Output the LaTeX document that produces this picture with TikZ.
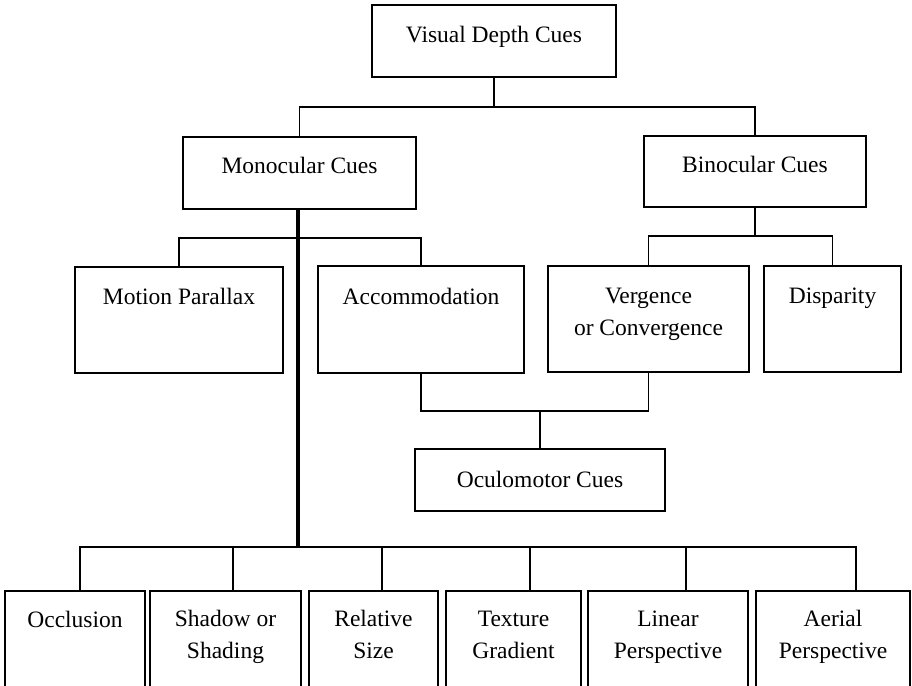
\documentclass[tikz,border=0pt]{standalone}
\usepackage{fontspec}
\setmainfont{Liberation Serif}
\begin{document}
\begin{tikzpicture}[x=1pt,y=-1pt,
  box/.style={draw, rectangle, line width=1.9pt, inner sep=0pt, outer sep=0pt},
  lbl/.style={font=\fontsize{23.5}{31.5}\selectfont, inner sep=0pt, anchor=base, align=center},
  conn/.style={line width=1.9pt},
  trunk/.style={line width=3.3pt}]
\useasboundingbox (0,0) rectangle (912,685);
\clip (0,0) rectangle (912,685);
% boxes
\node[box, minimum width=244pt, minimum height=72pt] (vdc) at (494,41) {};
\node[box, minimum width=233pt, minimum height=72pt] (mono) at (299.5,173) {};
\node[box, minimum width=222pt, minimum height=71pt] (bino) at (755,171.5) {};
\node[box, minimum width=208pt, minimum height=106pt] (motion) at (179,320) {};
\node[box, minimum width=206pt, minimum height=107pt] (accom) at (421,319.5) {};
\node[box, minimum width=201pt, minimum height=106pt] (verg) at (648.5,319) {};
\node[box, minimum width=137pt, minimum height=106pt] (disp) at (832.5,319) {};
\node[box, minimum width=250pt, minimum height=62pt] (ocul) at (540,480) {};
\node[box, minimum width=140pt, minimum height=129pt] (occl) at (75,655.5) {};
\node[box, minimum width=151pt, minimum height=129pt] (shad) at (225.5,655.5) {};
\node[box, minimum width=129pt, minimum height=129pt] (rel) at (373.5,655.5) {};
\node[box, minimum width=135pt, minimum height=129pt] (tex) at (513.5,655.5) {};
\node[box, minimum width=160pt, minimum height=129pt] (lin) at (668,655.5) {};
\node[box, minimum width=154pt, minimum height=129pt] (aer) at (833,655.5) {};
% labels (base anchor = baseline of the last line)
\node[lbl] (vdct) at (494,43) {Visual Depth Cues};
\node[lbl] (monot) at (299.5,173) {Monocular Cues};
\node[lbl] (binot) at (755,172) {Binocular Cues};
\node[lbl] (motiont) at (179,304) {Motion Parallax};
\node[lbl] (accomt) at (421,304) {Accommodation};
\node[lbl] (vergt) at (648.5,335) {Vergence\\or Convergence};
\node[lbl] (dispt) at (832.5,303) {Disparity};
\node[lbl] (ocult) at (540,487) {Oculomotor Cues};
\node[lbl] (occlt) at (75,627) {Occlusion};
\node[lbl] (shadt) at (225.5,658) {Shadow or\\Shading};
\node[lbl] (relt) at (373.5,658) {Relative\\Size};
\node[lbl] (text) at (513.5,658) {Texture\\Gradient};
\node[lbl] (lint) at (668,658) {Linear\\Perspective};
\node[lbl] (aert) at (833,658) {Aerial\\Perspective};
% junctions
\coordinate (j1) at (494,107);
\coordinate (j2) at (755,236);
\coordinate (j3) at (298,238);
\coordinate (j4) at (540,411);
\coordinate (j5) at (298,547);
% connectors
\draw[conn] (vdc.south) -- (j1);
\draw[conn] (mono.north) |- (j1) -| (bino.north);
\draw[conn] (bino.south) -- (j2);
\draw[conn] (verg.north) |- (j2) -| (disp.north);
\draw[conn] (motion.north) |- (j3) -| (accom.north);
\draw[conn] (accom.south) |- (j4) -| (verg.south);
\draw[conn] (j4) -- (ocul.north);
\draw[trunk] (mono.south -| j5) -- (j5);
\draw[conn] ([xshift=5pt]occl.north) |- ([xshift=23pt]aer.north |- j5) -- ([xshift=23pt]aer.north);
\draw[conn] ([xshift=7.5pt]shad.north) -- ([xshift=7.5pt]shad.north |- j5);
\draw[conn] ([xshift=8.5pt]rel.north) -- ([xshift=8.5pt]rel.north |- j5);
\draw[conn] ([xshift=16.5pt]tex.north) -- ([xshift=16.5pt]tex.north |- j5);
\draw[conn] ([xshift=18pt]lin.north) -- ([xshift=18pt]lin.north |- j5);
\end{tikzpicture}
\end{document}
